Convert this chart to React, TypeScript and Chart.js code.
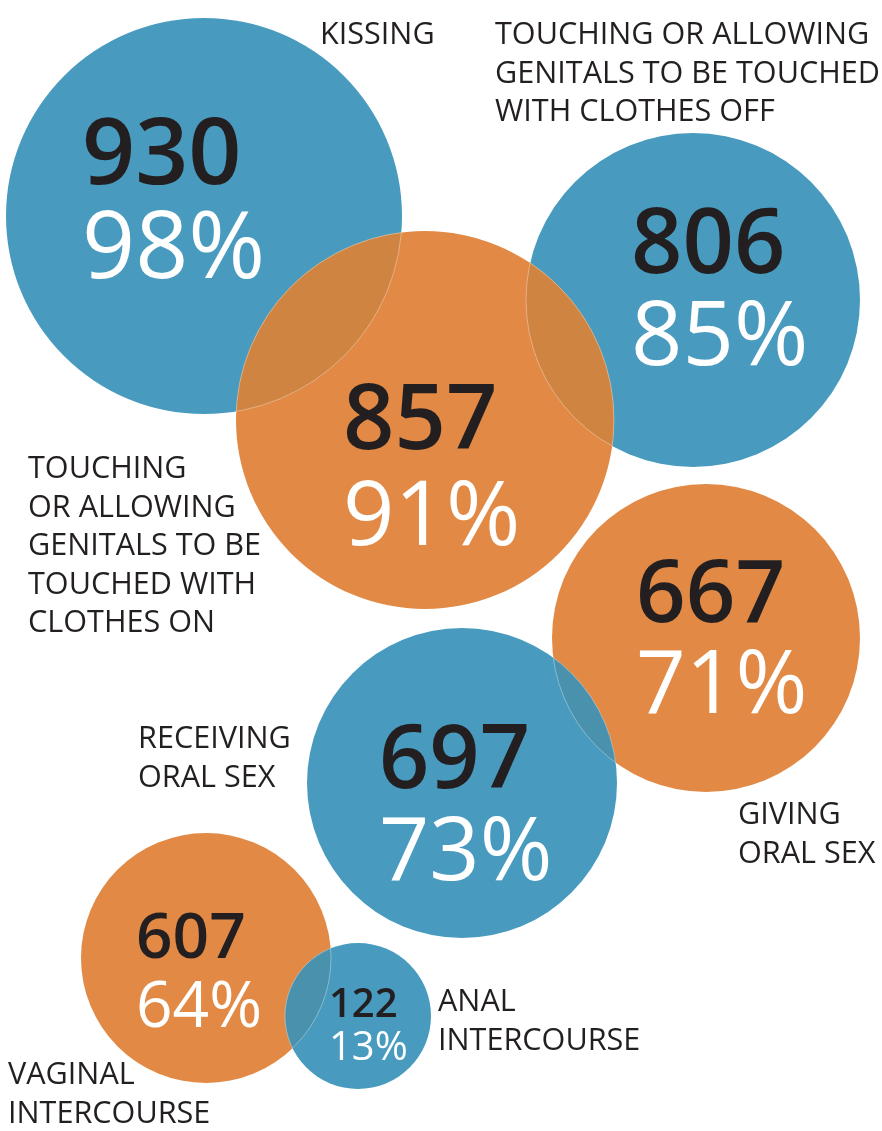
import { useEffect, useRef } from 'react';
import { Chart, registerables } from 'chart.js';

Chart.register(...registerables);

// ---- data ----
const categories = [
  'KISSING',
  'TOUCHING OR ALLOWING GENITALS TO BE TOUCHED WITH CLOTHES OFF',
  'TOUCHING OR ALLOWING GENITALS TO BE TOUCHED WITH CLOTHES ON',
  'GIVING ORAL SEX',
  'RECEIVING ORAL SEX',
  'VAGINAL INTERCOURSE',
  'ANAL INTERCOURSE',
];
const counts = [930, 806, 857, 667, 697, 607, 122];
const percents = [98, 85, 91, 71, 73, 64, 13];
const bubbleX = [204, 693, 425, 706, 462, 206, 358];
const bubbleY = [216, 300, 420, 638, 783, 958, 1016];
const bubbleR = [198, 167, 189, 154, 155, 125, 73];
const labelLines = [
  ['KISSING'],
  ['TOUCHING OR ALLOWING', 'GENITALS TO BE TOUCHED', 'WITH CLOTHES OFF'],
  ['TOUCHING', 'OR ALLOWING', 'GENITALS TO BE', 'TOUCHED WITH', 'CLOTHES ON'],
  ['GIVING', 'ORAL SEX'],
  ['RECEIVING', 'ORAL SEX'],
  ['VAGINAL', 'INTERCOURSE'],
  ['ANAL', 'INTERCOURSE'],
];

// ---- layout / style ----
const BLUE = '#489bbf';
const ORANGE = '#e28a45';
const colors = [BLUE, BLUE, ORANGE, ORANGE, BLUE, ORANGE, BLUE];
const numFont = [93, 90, 90, 87, 88, 64, 40];
const textDx = [-122, -62, -82, -70, -83, -70, -29];
const numDy = [-32, -27, 29, -16, 5, 0, 1];
const pctDy = [62, 65, 125, 75, 97, 69, 44];
const labelX = [320, 495, 28, 738, 138, 8, 438];
const labelY = [44, 44, 478, 824, 748, 1084, 1011];
const LINE_H = 38.5;
const overlaps: [number, number, string][] = [
  [0, 2, '#cf8442'],
  [1, 2, '#cf8442'],
  [3, 4, '#4a91ad'],
  [5, 6, '#4a91ad'],
];

export default function App() {
  const ref = useRef<HTMLCanvasElement>(null);
  useEffect(() => {
    if (!ref.current) return;
    const textPlugin = {
      id: 'bubbleText',
      afterDatasetsDraw(chart: any) {
        const ctx = chart.ctx as CanvasRenderingContext2D;
        const meta = chart.getDatasetMeta(0);
        const xs = chart.scales.x;
        const ys = chart.scales.y;
        const circle = (i: number) => {
          const p = meta.data[i];
          ctx.beginPath();
          ctx.arc(p.x, p.y, p.options.radius, 0, Math.PI * 2);
        };
        // overlap lenses
        overlaps.forEach(([a, b, c]) => {
          ctx.save();
          circle(a);
          ctx.clip();
          circle(b);
          ctx.fillStyle = c;
          ctx.fill();
          ctx.restore();
          ctx.save();
          ctx.strokeStyle = 'rgba(255,255,255,0.35)';
          ctx.lineWidth = 1;
          circle(b);
          ctx.clip();
          circle(a);
          ctx.stroke();
          ctx.restore();
          ctx.save();
          ctx.strokeStyle = 'rgba(255,255,255,0.35)';
          ctx.lineWidth = 1;
          circle(a);
          ctx.clip();
          circle(b);
          ctx.stroke();
          ctx.restore();
        });
        // numbers
        ctx.save();
        ctx.textAlign = 'left';
        ctx.textBaseline = 'alphabetic';
        meta.data.forEach((p: any, i: number) => {
          ctx.font = `600 ${numFont[i]}px "Open Sans"`;
          ctx.fillStyle = '#231f20';
          ctx.fillText(String(counts[i]), p.x + textDx[i], p.y + numDy[i]);
          ctx.font = `500 ${numFont[i]}px "Open Sans"`;
          ctx.fillStyle = '#ffffff';
          ctx.fillText(`${percents[i]}%`, p.x + textDx[i], p.y + pctDy[i]);
        });
        // category labels
        ctx.font = '400 30.6px "Open Sans"';
        ctx.fillStyle = '#231f20';
        labelLines.forEach((lines, i) => {
          const lx = xs.getPixelForValue(labelX[i]);
          const ly = ys.getPixelForValue(labelY[i]);
          lines.forEach((t, k) => ctx.fillText(t, lx, ly + k * LINE_H));
        });
        ctx.restore();
      },
    };
    const chart = new Chart(ref.current, {
      type: 'bubble',
      data: {
        labels: categories,
        datasets: [
          {
            label: 'Respondents',
            data: counts.map((_, i) => ({ x: bubbleX[i], y: bubbleY[i], r: bubbleR[i] })),
            backgroundColor: colors,
            borderWidth: 0,
            hoverBorderWidth: 0,
            clip: false,
          },
        ],
      },
      options: {
        responsive: false,
        animation: false,
        devicePixelRatio: 1,
        events: [],
        layout: { padding: 0, autoPadding: false },
        plugins: { legend: { display: false }, tooltip: { enabled: false } },
        scales: {
          x: { type: 'linear', min: 0, max: 882, display: false },
          y: { type: 'linear', min: 0, max: 1131, reverse: true, display: false },
        },
      },
      plugins: [textPlugin],
    });
    return () => chart.destroy();
  }, []);
  return (
    <div style={{ position: 'absolute', left: 0, top: 0, width: 882, height: 1131, background: '#fff' }}>
      <canvas ref={ref} width={882} height={1131} style={{ display: 'block' }} />
    </div>
  );
}
